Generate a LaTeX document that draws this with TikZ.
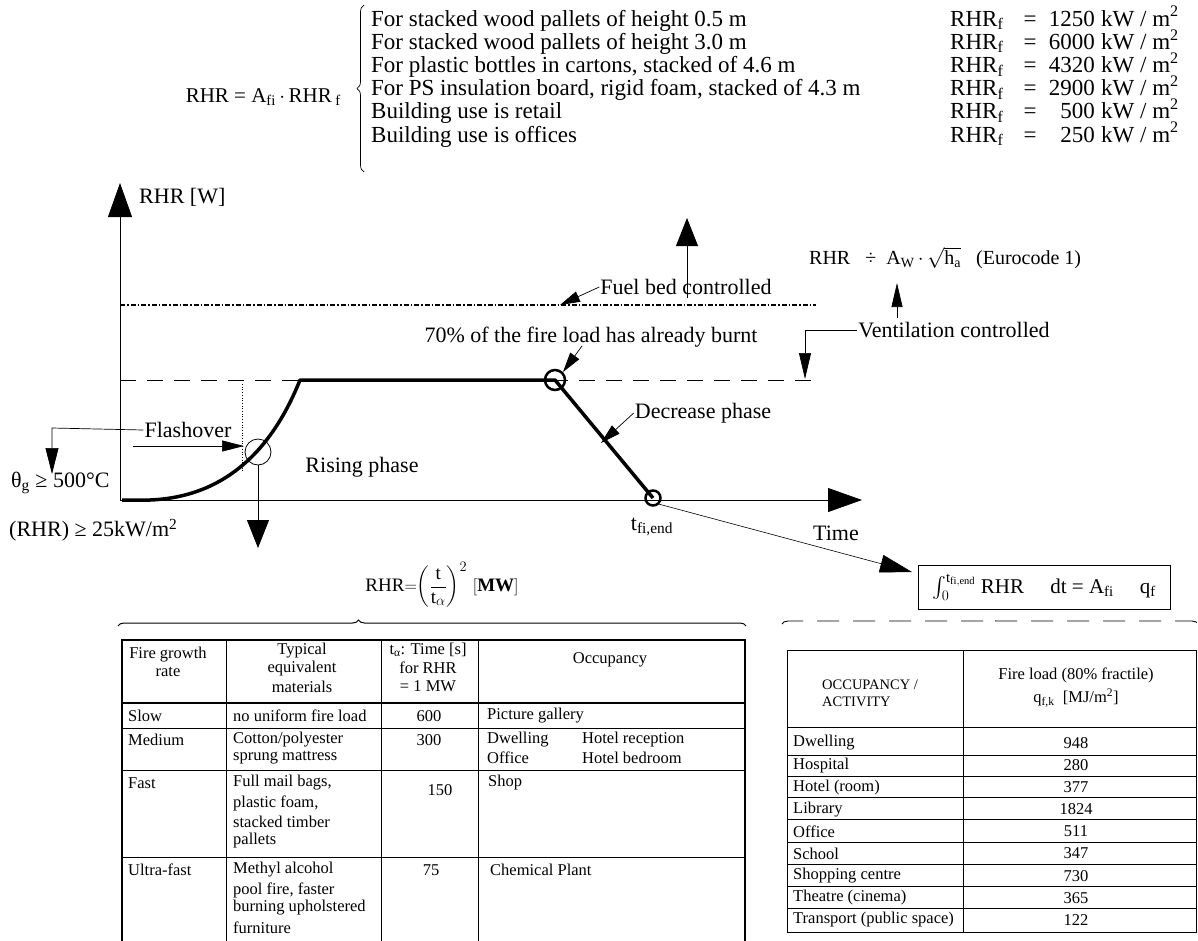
\documentclass[tikz,border=0pt]{standalone}
\usepackage{fontspec}
\setmainfont{Liberation Serif}
\usepackage{amsmath}
\usetikzlibrary{arrows.meta,decorations.pathreplacing}
\begin{document}
\begin{tikzpicture}[x=1pt,y=-1pt,
  big/.style={font=\fontsize{23}{25}\selectfont},
  lab/.style={font=\fontsize{22}{24}\selectfont, inner sep=1pt},
  mth/.style={font=\fontsize{20}{22}\selectfont, inner sep=1pt},
  tab/.style={font=\fontsize{16.5}{18}\selectfont, inner sep=0pt},
  tabc/.style={tab, anchor=center},
  tabl/.style={tab, anchor=west},
  axis/.style={line width=0.8pt, -{Triangle[length=34pt,width=24pt]}},
  bigarr/.style={line width=0.8pt, -{Triangle[length=28pt,width=22pt]}},
  smarr/.style={line width=0.7pt, -{Triangle[length=20pt,width=11pt]}},
  curve/.style={line width=3.5pt, line join=round},
  thin/.style={line width=0.7pt}
]
\useasboundingbox (0,0) rectangle (1198,940);
\fill[white] (0,0) rectangle (1198,940);

% ---------- top formula and list ----------
\node[mth, anchor=east, font=\fontsize{21}{23}\selectfont] (topf) at (342,97) {RHR = A\textsubscript{fi}\,$\cdot$\,RHR\,\textsubscript{f}};
\coordinate (brb) at (364,172);
\coordinate (brt) at (364,5);
\draw[thin, decorate, decoration={brace, amplitude=7pt}] (brb) -- (brt);
\foreach \i/\t/\v in {
  0/For stacked wood pallets of height 0.5 m/1250,
  1/For stacked wood pallets of height 3.0 m/6000,
  2/{For plastic bottles in cartons, stacked of 4.6 m}/4320,
  3/{For PS insulation board, rigid foam, stacked of 4.3 m}/2900,
  4/Building use is retail/500,
  5/Building use is offices/250}{
  \pgfmathsetmacro{\yy}{26+23.2*\i}
  \node[big, anchor=base west, inner sep=0pt] (li\i) at (371,\yy) {\t};
  \node[big, anchor=base west, inner sep=0pt] (lr\i) at (950,\yy) {RHR\textsubscript{f}};
  \node[big, anchor=base, inner sep=0pt] (le\i) at (1030,\yy) {=};
  \node[big, anchor=base east, inner sep=0pt] (lv\i) at (1095,\yy) {\v};
  \node[big, anchor=base west, inner sep=0pt] (lu\i) at (1101,\yy) {kW / m\textsuperscript{2}};
}

% ---------- graph ----------
\coordinate (O) at (120,500);
\coordinate (ytip) at (120,183);
\coordinate (xtip) at (862,500);
\draw[axis] (O) -- (ytip);
\draw[axis] (O) -- (xtip);
\node[lab, anchor=west] (rhrw) at (138,197) {RHR [W]};
\node[lab] (time) at (836,533) {Time};
\node[lab] (tfi) at (652,527) {t\textsubscript{fi,end}};

% reference lines
\coordinate (fbl) at (120,305);
\coordinate (fbr) at (816,305);
\coordinate (vcl) at (120,380);
\coordinate (vcr) at (816,380);
\draw[line width=1.2pt, dash pattern=on 5pt off 2pt on 1.5pt off 2pt] (fbl) -- (fbr);
\draw[line width=0.8pt, dash pattern=on 16pt off 11pt] (vcl) -- (vcr);

% curve
\coordinate (c0) at (122,500);
\coordinate (c1) at (150,500);
\coordinate (c2) at (300,380);
\coordinate (pk) at (555,380);
\coordinate (en) at (653,498);
\draw[curve] (c0) -- (c1) .. controls (225,497) and (272,450) .. (c2) -- (pk) -- (en);
\draw[line width=0.7pt, dotted] (242,384) -- (242,472);

% circles
\node[draw, circle, line width=0.8pt, minimum size=26pt, inner sep=0pt] (cf) at (258,452) {};
\node[draw, circle, line width=2.5pt, minimum size=20pt, inner sep=0pt] (cp) at (555,380) {};
\node[draw, circle, line width=2.5pt, minimum size=15pt, inner sep=0pt] (ce) at (653,498) {};

% flashover
\node[lab] (flash) at (188,430) {Flashover};
\coordinate (flk) at (52,428);
\coordinate (fltip) at (52,474);
\draw[thin, -{Triangle[length=26pt,width=13pt]}] (flash.west) -- (flk) -- (fltip);
\coordinate (fla) at (133,446);
\coordinate (flb) at (244,446);
\draw[thin, -{Triangle[length=22pt,width=11pt]}] (fla) -- (flb);
\node[lab, anchor=west] (theta) at (10,483) {θ\textsubscript{g} ≥ 500°C};
\node[lab, anchor=west] (rhr25) at (8,530) {(RHR) ≥ 25kW/m\textsuperscript{2}};
\coordinate (dntip) at (258,548);
\draw[bigarr] (cf.south) -- (dntip);
\node[lab] (rising) at (362,467) {Rising phase};

% 70% label
\node[lab] (seventy) at (591,337) {70\% of the fire load has already burnt};
\coordinate (s70) at (582,346);
\draw[thin, -{Triangle[length=20pt,width=11pt]}] (s70) -- (cp.north east);

% fuel bed
\node[lab] (fuel) at (686,287) {Fuel bed controlled};
\coordinate (fuelpt) at (560,305);
\draw[thin, -{Triangle[length=20pt,width=11pt]}] (fuel.west) -- (fuelpt);
\coordinate (fuelup) at (687,218);
\coordinate (fuelbase) at (687,298);
\draw[bigarr] (fuelbase) -- (fuelup);

% eurocode formula
\node[mth, anchor=west] (euro) at (808,258) {RHR \ \ ÷ \ A\textsubscript{W}$\,\cdot\,$$\sqrt{\mathrm{h_a}}$ \ \ (Eurocode 1)};
\node[lab] (vent) at (954,330) {Ventilation controlled};
\coordinate (vk) at (805,330);
\coordinate (vtip) at (805,379);
\draw[thin, -{Triangle[length=26pt,width=12pt]}] (vent.west) -- (vk) -- (vtip);
\coordinate (vupb) at (897,318);
\coordinate (vupt) at (897,283);
\draw[thin, -{Triangle[length=24pt,width=11pt]}] (vupb) -- (vupt);

% decrease phase
\node[lab] (decr) at (703,413) {Decrease phase};
\coordinate (dtip) at (601,443);
\draw[thin, -{Triangle[length=20pt,width=11pt]}] (decr.west) -- (dtip);

% line to integral box
\node[draw, line width=0.8pt, minimum width=252pt, minimum height=44pt, inner sep=2pt, font=\fontsize{21}{23}\selectfont] (integ) at (1044,587)
  {$\int_0^{\mathrm{t}_{\mathrm{fi,end}}}$ RHR \quad dt = A\textsubscript{fi} \quad q\textsubscript{f}};
\coordinate (itip) at (912,572);
\draw[line width=0.6pt, -{Triangle[length=32pt,width=18pt]}] (ce.south east) -- (itip);

% dashed brace
\coordinate (dbl) at (782,624);
\coordinate (dbr) at (1198,624);
\draw[line width=0.9pt, dash pattern=on 22pt off 14pt, decorate, decoration={brace, amplitude=6pt, aspect=0.5}] (dbl) -- (dbr);

% growth formula
\node[font=\fontsize{19}{21}\selectfont, inner sep=0pt] (grow) at (442,585)
  {$\mathrm{RHR}{=}\!\left(\dfrac{\mathrm{t}}{\mathrm{t}_{\alpha}}\right)^{2}\,\left[\mathbf{MW}\right]$};
\coordinate (sbl) at (118,626);
\coordinate (sbr) at (746,626);
\draw[line width=1pt, decorate, decoration={brace, amplitude=6pt, aspect=0.383}] (sbl) -- (sbr);

% ---------- left table ----------
\draw[line width=2.5pt] (122,640) rectangle (745,942);
\draw[line width=2.5pt] (122,703) -- (745,703);
\draw[line width=0.8pt] (122,728) -- (745,728);
\draw[line width=0.8pt] (122,770) -- (745,770);
\draw[line width=0.8pt] (122,857) -- (745,857);
\draw[line width=0.8pt] (226,640) -- (226,942);
\draw[line width=0.8pt] (381,640) -- (381,942);
\draw[line width=0.8pt] (478,640) -- (478,942);

\node[tabc] (h1a) at (168,655) {Fire growth};
\node[tabc] (h1b) at (168,672) {rate};
\node[tabc] (h2a) at (302,651) {Typical};
\node[tabc] (h2b) at (302,669) {equivalent};
\node[tabc] (h2c) at (302,687) {materials};
\node[tabc] (h3a) at (428,650) {t\textsubscript{α}: Time [s]};
\node[tabc] (h3b) at (428,668) {for RHR};
\node[tabc] (h3c) at (428,686) {= 1 MW};
\node[tabc] (h4) at (610,660) {Occupancy};

\node[tabl] (r1a) at (128,716) {Slow};
\node[tabl] (r1b) at (233,716) {no uniform fire load};
\node[tabc] (r1c) at (429,716) {600};
\node[tabl] (r1d) at (487,716) {Picture gallery};

\node[tabl] (r2a) at (128,740) {Medium};
\node[tabl] (r2b) at (233,740) {Cotton/polyester};
\node[tabl] (r2b2) at (233,758) {sprung mattress};
\node[tabc] (r2c) at (429,740) {300};
\node[tabl] (r2d) at (487,740) {Dwelling};
\node[tabl] (r2e) at (582,740) {Hotel reception};
\node[tabl] (r2f) at (487,758) {Office};
\node[tabl] (r2g) at (582,758) {Hotel bedroom};

\node[tabl] (r3a) at (128,783) {Fast};
\node[tabl] (r3b) at (233,783) {Full mail bags,};
\node[tabl] (r3b2) at (233,803) {plastic foam,};
\node[tabl] (r3b3) at (233,822) {stacked timber};
\node[tabl] (r3b4) at (233,841) {pallets};
\node[tabc] (r3c) at (440,790) {150};
\node[tabl] (r3d) at (488,783) {Shop};

\node[tabl] (r4a) at (128,870) {Ultra-fast};
\node[tabl] (r4b) at (233,870) {Methyl alcohol};
\node[tabl] (r4b2) at (233,890) {pool fire, faster};
\node[tabl] (r4b3) at (233,908) {burning upholstered};
\node[tabl] (r4b4) at (233,928) {furniture};
\node[tabc] (r4c) at (431,870) {75};
\node[tabl] (r4d) at (490,870) {Chemical Plant};

% ---------- right table ----------
\draw[line width=0.8pt] (787,650) rectangle (1196,932);
\draw[line width=0.8pt] (963,650) -- (963,932);
\foreach \yy in {727,755,776,797,819,842,864,886,908}{
  \draw[line width=0.8pt] (787,\yy) -- (1196,\yy);
}
\node[tabl, font=\fontsize{14.5}{16}\selectfont] (oh1) at (822,685) {OCCUPANCY /};
\node[tabl, font=\fontsize{14.5}{16}\selectfont] (oh2) at (822,702) {ACTIVITY};
\node[tabc] (fh1) at (1076,675) {Fire load (80\% fractile)};
\node[tabc] (fh2) at (1076,698) {q\textsubscript{f,k} \ [MJ/m\textsuperscript{2}]};
\foreach \i/\n/\v in {0/Dwelling/948, 1/Hospital/280, 2/Hotel (room)/377, 3/Library/1824,
  4/Office/511, 5/School/347, 6/Shopping centre/730, 7/Theatre (cinema)/365,
  8/Transport (public space)/122}{
  \pgfmathsetmacro{\yy}{743+22.1*\i}
  \node[tabl] (rn\i) at (793,\yy) {\n};
  \node[tabc] (rv\i) at (1076,\yy) {\v};
}
\end{tikzpicture}
\end{document}
